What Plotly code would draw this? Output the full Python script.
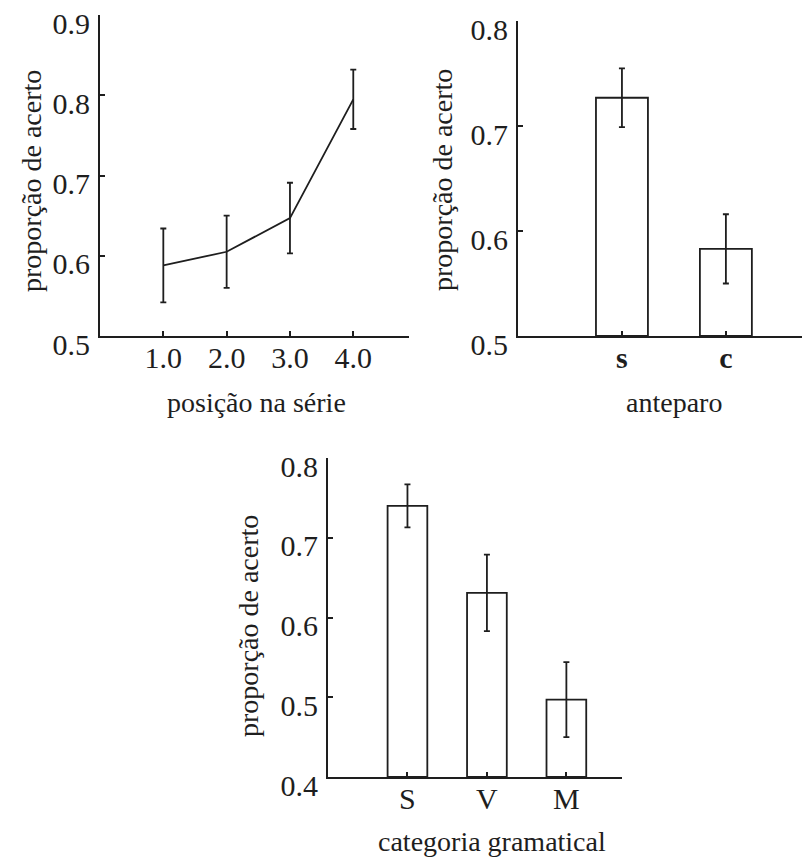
import plotly.graph_objects as go

# ---- data ----
pos_x = [1.0, 2.0, 3.0, 4.0]
pos_tick_labels = ["1.0", "2.0", "3.0", "4.0"]
pos_mean = [0.588, 0.605, 0.647, 0.795]
pos_err = [0.046, 0.045, 0.044, 0.037]

ant_cats = ["s", "c"]
ant_mean = [0.727, 0.583]
ant_err = [0.028, 0.033]

cat_cats = ["S", "V", "M"]
cat_mean = [0.740, 0.631, 0.497]
cat_err = [0.027, 0.048, 0.047]

y1_ticks = [0.5, 0.6, 0.7, 0.8, 0.9]
y2_ticks = [0.5, 0.6, 0.7, 0.8]
y3_ticks = [0.4, 0.5, 0.6, 0.7, 0.8]

ylabel = "proporção de acerto"
xlabels = ["posição na série", "anteparo", "categoria gramatical"]

FONT = "Liberation Serif"
INK = "#1e1e1e"
OFF = 8            # browser body margin
W, H = 810 - OFF, 860 - OFF

fig = go.Figure()

fig.add_trace(go.Scatter(
    x=pos_x, y=pos_mean, mode="lines",
    line=dict(color=INK, width=1.8),
    error_y=dict(type="data", array=pos_err, color=INK, thickness=1.8, width=3),
    xaxis="x", yaxis="y", showlegend=False))

fig.add_trace(go.Bar(
    x=ant_cats, y=[m - 0.5 for m in ant_mean], base=0.5, width=0.5,
    marker=dict(color="white", line=dict(color=INK, width=1.8)),
    error_y=dict(type="data", array=ant_err, color=INK, thickness=1.8, width=3),
    xaxis="x2", yaxis="y2", showlegend=False))

fig.add_trace(go.Bar(
    x=cat_cats, y=[m - 0.4 for m in cat_mean], base=0.4, width=0.5,
    marker=dict(color="white", line=dict(color=INK, width=1.8)),
    error_y=dict(type="data", array=cat_err, color=INK, thickness=1.8, width=3),
    xaxis="x3", yaxis="y3", showlegend=False))

def fx(p):
    return (p - OFF) / W

def fy(p):
    return 1 - (p - OFF) / H

def px_x(a, b):
    return [fx(a), fx(b)]

def px_y(top, bottom):
    return [fy(bottom), fy(top)]

axis_common = dict(showline=True, linecolor=INK, linewidth=1.8, ticks="inside",
                   ticklen=5, tickwidth=1.5, tickcolor=INK, showgrid=False,
                   zeroline=False, automargin=False, ticklabeloverflow="allow",
                   tickfont=dict(family=FONT, size=30, color=INK))

yshift = dict(ticklabelshift=8)

fig.update_layout(
    template="none",
    width=W, height=H,
    margin=dict(l=0, r=0, t=0, b=0, pad=0),
    paper_bgcolor="white", plot_bgcolor="white",
    xaxis=dict(domain=px_x(100, 409), range=[0, 4.88], tickvals=pos_x,
               ticktext=pos_tick_labels, anchor="y", ticklabelstandoff=-6, **axis_common),
    yaxis=dict(domain=px_y(15, 336), range=[0.5, 0.9001], tickvals=y1_ticks,
               ticktext=[f"{v:.1f}" for v in y1_ticks], anchor="x",
               ticklabelstandoff=2, **yshift, **axis_common),
    xaxis2=dict(domain=px_x(518, 808), range=[-1.0, 1.79], anchor="y2",
                ticklabelstandoff=-6,
                **{**axis_common, "tickfont": dict(family=FONT, size=30, color=INK, weight="bold")}),
    yaxis2=dict(domain=px_y(21, 336), range=[0.5, 0.8001], tickvals=y2_ticks,
                ticktext=[f"{v:.1f}" for v in y2_ticks], anchor="x2",
                ticklabelstandoff=2, **yshift, **axis_common),
    xaxis3=dict(domain=px_x(328, 622), range=[-1.0, 2.7], anchor="y3",
                ticklabelstandoff=-6, **axis_common),
    yaxis3=dict(domain=px_y(458, 777), range=[0.4, 0.8001], tickvals=y3_ticks,
                ticktext=[f"{v:.1f}" for v in y3_ticks], anchor="x3",
                ticklabelstandoff=2, **yshift, **axis_common),
)

title_font = dict(family=FONT, size=28, color=INK)
ann = []
# y titles
for xc, yc in [(31, 181), (442, 180), (248, 626)]:
    ann.append(dict(text=ylabel, x=fx(xc), y=fy(yc), xref="paper", yref="paper",
                    showarrow=False, textangle=-90, font=title_font,
                    xanchor="center", yanchor="middle"))
# x titles
for txt, xc, yc in [(xlabels[0], 256, 402), (xlabels[1], 674, 402), (xlabels[2], 492, 841)]:
    ann.append(dict(text=txt, x=fx(xc), y=fy(yc), xref="paper", yref="paper",
                    showarrow=False, font=title_font, xanchor="center", yanchor="middle"))
fig.update_layout(annotations=ann)

fig.write_html("out.html")
